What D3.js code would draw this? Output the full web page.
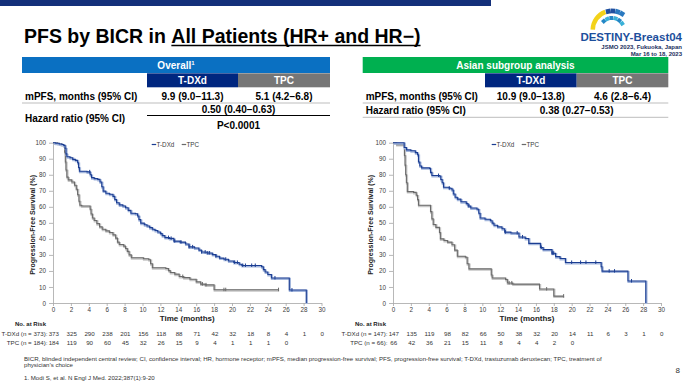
<!DOCTYPE html>
<html><head><meta charset="utf-8">
<script src="https://cdn.jsdelivr.net/npm/d3@7"></script>
<style>
body{margin:0;background:#fff}
svg{display:block;font-family:"Liberation Sans",Arial,Helvetica,sans-serif}
</style></head>
<body><svg id="c" width="693" height="390"></svg>
<script>
// ---------------- DATA ----------------
const xTickValues = [0,2,4,6,8,10,12,14,16,18,20,22,24,26,28,30];
const yTickValues = [0,10,20,30,40,50,60,70,80,90,100];
const seriesNames = ["T-DXd","TPC"];

// Overall population KM steps [month, PFS %]
const overallTDXd = [[0,100],[0.3,99.7],[0.7,99.2],[1.0,98.9],[1.2,98.3],[1.35,96.5],[1.45,93],[1.55,91.2],[1.9,90.6],[2.2,89.6],[2.5,89],[2.75,87.5],[2.85,84.5],[2.95,82.2],[3.8,81.8],[4.15,80],[4.3,78.2],[4.6,77.6],[5.0,77.1],[5.25,75.5],[5.45,72.5],[5.6,69.8],[5.9,68.5],[6.3,67.8],[6.7,66.5],[6.9,64.5],[7.1,62.5],[7.4,61.2],[7.8,60.5],[8.1,59.4],[8.4,57.8],[8.7,56],[9.2,55.7],[9.45,54.3],[9.6,52],[9.8,49.8],[10.2,48.8],[10.5,48],[10.8,47],[11.1,46],[11.4,45.2],[11.7,44.3],[12.0,43.3],[12.2,42],[12.5,40.8],[13.0,40.3],[13.5,38.6],[14.2,38],[14.8,36.8],[15.2,35],[15.8,34.3],[16.3,33],[16.6,31.8],[17.2,31.2],[17.8,30.2],[18.2,29.2],[18.6,28],[19.1,27.3],[19.6,26.2],[20.2,25.3],[20.8,24.2],[21.1,23.4],[23.3,22.6],[23.5,20.8],[23.7,19.3],[24.0,17.8],[24.4,15.6],[26.4,8.1],[28.3,0]];
const overallTPC = [[0,100],[0.5,99.5],[0.9,98.9],[1.2,98.2],[1.3,94],[1.38,88],[1.45,83],[1.55,78.5],[1.7,76.8],[2.1,75.5],[2.4,73.5],[2.6,71],[2.75,67.5],[2.9,63.5],[3.0,61],[3.2,60.5],[4.15,58.5],[4.25,55.5],[4.4,53],[4.6,51.5],[4.9,49.5],[5.2,47.5],[5.5,46],[5.9,45],[6.3,44],[6.7,42.5],[7.0,40.5],[7.2,38],[7.4,36.5],[7.9,35.5],[8.1,34],[8.3,32.2],[8.5,30],[8.75,28.2],[10.1,27.6],[10.7,27],[10.9,24.5],[11.1,22],[12.6,21.5],[12.9,20.2],[13.1,19],[13.6,18],[14.1,16.5],[14.6,15.8],[15.3,14.8],[16.0,13.2],[16.5,11.8],[17.0,11.3],[18.0,8.3],[25.2,8.3]];
const overallTDXdCensor = [4.1,12.9,13.2,13.6,14.3,15.2,15.6,16.6,17.0,17.3,17.5,18.2,19.3,20.3,20.6,21.2,21.5,22.2,22.6,24.8,26.7];
const overallTPCCensor = [14.5,16.7,17.1,19.1,19.3,25.2];

// Asian subgroup KM steps
const asianTDXd = [[0,100],[1.15,100],[1.25,97],[1.5,95.5],[2.0,95],[2.5,93.8],[2.75,92.5],[2.85,88],[3.0,85.5],[3.2,84.3],[4.1,84],[4.2,81.5],[4.35,79.5],[5.2,79.2],[5.35,77],[5.5,75],[5.65,72.2],[6.3,71.6],[6.6,70.5],[6.75,68],[6.95,66],[7.2,64.8],[7.6,63.2],[8.2,62],[8.4,60.5],[8.7,59.3],[9.4,58.5],[9.6,56],[9.75,53],[10.3,52.2],[10.9,51.3],[11.1,49.8],[11.3,48.5],[11.7,47.5],[12.2,46.3],[12.5,44.2],[13.2,43.7],[14.1,41.2],[14.8,40.2],[15.2,37.2],[16.5,34.6],[16.8,33.3],[17.8,31],[18.2,28.9],[18.7,27.8],[19.3,25.3],[23.3,22.6],[23.4,19.9],[26.3,13.7],[28.3,0]];
const asianTPC = [[0,100],[0.4,98.8],[1.28,92],[1.35,86],[1.42,80],[1.5,75],[1.6,69.5],[2.3,69],[2.6,67.2],[2.75,64.5],[2.85,61],[4.1,61],[4.2,57],[4.35,52.5],[4.5,49],[4.8,47.2],[5.2,44],[5.3,40],[5.7,39],[6.1,38],[6.6,36.3],[6.9,33],[7.2,29.2],[8.1,28.5],[8.3,24.5],[8.5,21.3],[10.8,21.3],[11.0,17.5],[11.1,15.6],[12.6,14.7],[12.8,12.5],[13.4,11.8],[16.4,8.7],[18.0,4.3],[19.1,4.3]];
const asianTDXdCensor = [5.1,6.3,8.5,12.6,13.9,14.5,16.6,17.8,17.9,18.0,20.0,21.0,21.6,22.7,24.2,24.8,26.7];
const asianTPCCensor = [13.0,13.3,17.2,19.1];

// Numbers at risk (every 2 months)
const overallRiskTDXd = [373,325,290,238,201,156,118,88,71,42,32,18,8,4,1,0];
const overallRiskTPC = [184,119,90,60,45,32,26,15,9,4,1,1,1,0];
const asianRiskTDXd = [147,135,119,98,82,66,50,38,32,20,14,11,6,3,1,0];
const asianRiskTPC = [66,42,36,21,15,11,8,4,4,2,0];

// Table contents
const overallTable = {title:"Overall", sup:"1", mpfs:["9.9 (9.0\u221211.3)","5.1 (4.2\u22126.8)"], hr:"0.50 (0.40\u22120.63)", p:"P<0.0001"};
const asianTable = {title:"Asian subgroup analysis", sup:"", mpfs:["10.9 (9.0\u221213.8)","4.6 (2.8\u22126.4)"], hr:"0.38 (0.27\u22120.53)", p:null};

// ---------------- DRAW ----------------
const svg = d3.select("#c");
const BLUE="#1b3d92", BLUE_L="#a3b6dc", GRAY="#6a6a6a", GRAY_L="#c6c6c6";

// top bar
svg.append("rect").attr("x",0).attr("y",0).attr("width",491).attr("height",6).attr("fill","#14307a");

// title
const tFont = 19.5;
const t1 = svg.append("text").attr("x",24).attr("y",43).attr("font-size",tFont).attr("font-weight","bold").attr("fill","#000").text("PFS by BICR in");
const w1 = t1.node().getComputedTextLength();
const x2 = 24 + w1 + tFont*0.278;
const t2 = svg.append("text").attr("x",x2).attr("y",43).attr("font-size",tFont).attr("font-weight","bold").attr("fill","#000").text("All Patients (HR+ and HR\u2212)");
const w2 = t2.node().getComputedTextLength();
svg.append("line").attr("x1",x2).attr("x2",x2+w2).attr("y1",45.5).attr("y2",45.5).attr("stroke","#000").attr("stroke-width",1.6);

// logo
(function(){
  const g = svg.append("g").attr("transform","translate(612,30)");
  g.append("path").attr("d", d3.arc()({innerRadius:17,outerRadius:21.5,startAngle:-1.55,endAngle:-0.35})).attr("fill","#f3d21a");
  const outer = [-0.2,0.05,0.3,0.55];
  outer.forEach((a,i)=>{
    g.append("rect").attr("x",-2.4).attr("y",-2.4).attr("width",4.8).attr("height",4.8)
     .attr("fill",i<2?"#1f4f9f":"#2a79c0")
     .attr("transform",`rotate(${a*180/Math.PI}) translate(0,-19)`);
  });
  const inner = [-0.75,-0.4,-0.05,0.3,0.65,1.0];
  inner.forEach((a,i)=>{
    g.append("rect").attr("x",-2).attr("y",-2).attr("width",4).attr("height",4)
     .attr("fill",i%2?"#39b1d8":"#2487c6")
     .attr("transform",`rotate(${a*180/Math.PI}) translate(0,-12)`);
  });
})();
svg.append("text").attr("x",682).attr("y",40.5).attr("text-anchor","end").attr("font-size",11.5).attr("font-weight","bold").attr("fill","#1d4f9c").text("DESTINY-Breast04");
svg.append("text").attr("x",682).attr("y",49.3).attr("text-anchor","end").attr("font-size",6).attr("font-weight","bold").attr("fill","#1a2f5e").text("JSMO 2023, Fukuoka, Japan");
svg.append("text").attr("x",682).attr("y",55.6).attr("text-anchor","end").attr("font-size",6).attr("font-weight","bold").attr("fill","#1a2f5e").text("Mar 16 to 18, 2023");

// tables
function drawTable(x0, xMid, xC, x1, headColor, tbl){
  const g = svg.append("g");
  g.append("rect").attr("x",x0).attr("y",57).attr("width",x1-x0).attr("height",16).attr("fill",headColor);
  const ht = g.append("text").attr("x",(x0+x1)/2).attr("y",68.5).attr("text-anchor","middle").attr("font-size",10).attr("font-weight","bold").attr("fill","#fff").text(tbl.title);
  if(tbl.sup) ht.append("tspan").attr("font-size",6).attr("dy",-3.5).text(tbl.sup);
  g.append("rect").attr("x",xMid).attr("y",73.3).attr("width",xC-xMid).attr("height",14).attr("fill","#00267f");
  g.append("rect").attr("x",xC).attr("y",73.3).attr("width",x1-xC).attr("height",14).attr("fill","#767676");
  g.append("text").attr("x",(xMid+xC)/2).attr("y",84).attr("text-anchor","middle").attr("font-size",10).attr("font-weight","bold").attr("fill","#fff").text(seriesNames[0]);
  g.append("text").attr("x",(xC+x1)/2).attr("y",84).attr("text-anchor","middle").attr("font-size",10).attr("font-weight","bold").attr("fill","#fff").text(seriesNames[1]);
  g.append("text").attr("x",x0+3).attr("y",100.3).attr("font-size",10).attr("font-weight","bold").text("mPFS, months (95% CI)");
  g.append("text").attr("x",(xMid+xC)/2).attr("y",100.3).attr("text-anchor","middle").attr("font-size",10).attr("font-weight","bold").text(tbl.mpfs[0]);
  g.append("text").attr("x",(xC+x1)/2).attr("y",100.3).attr("text-anchor","middle").attr("font-size",10).attr("font-weight","bold").text(tbl.mpfs[1]);
  g.append("line").attr("x1",x0).attr("x2",x1).attr("y1",103).attr("y2",103).attr("stroke","#bdbdbd").attr("stroke-width",1);
  if(tbl.p){
    g.append("text").attr("x",x0+3).attr("y",121.8).attr("font-size",10).attr("font-weight","bold").text("Hazard ratio (95% CI)");
    g.append("text").attr("x",(xMid+x1)/2).attr("y",113).attr("text-anchor","middle").attr("font-size",10).attr("font-weight","bold").text(tbl.hr);
    g.append("line").attr("x1",xMid).attr("x2",x1).attr("y1",115.5).attr("y2",115.5).attr("stroke","#000").attr("stroke-width",1);
    g.append("text").attr("x",(xMid+x1)/2).attr("y",129.3).attr("text-anchor","middle").attr("font-size",10).attr("font-weight","bold").text(tbl.p);
  } else {
    g.append("text").attr("x",x0+3).attr("y",113.7).attr("font-size",10).attr("font-weight","bold").text("Hazard ratio (95% CI)");
    g.append("text").attr("x",(xMid+x1)/2).attr("y",113.7).attr("text-anchor","middle").attr("font-size",10).attr("font-weight","bold").text(tbl.hr);
    g.append("line").attr("x1",x0).attr("x2",x1).attr("y1",117.3).attr("y2",117.3).attr("stroke","#bdbdbd").attr("stroke-width",1);
  }
}
drawTable(22,147,238,330,"#0a70c2",overallTable);
drawTable(362.7,485,576.7,668.3,"#00b050",asianTable);

// KM charts
function stepValue(data,t){let v=data[0][1];for(const d of data){if(d[0]<=t)v=d[1];else break;}return v;}
function drawKM(x0,x1,yAxisX,tdxd,tpc,cT,cP,riskT,riskP,nT,nP){
  const x = d3.scaleLinear().domain([0,30]).range([x0,x1]);
  const y = d3.scaleLinear().domain([0,100]).range([303,142.7]);
  const g = svg.append("g");
  const ax = g.append("g").attr("transform",`translate(0,303)`).call(d3.axisBottom(x).tickValues(xTickValues).tickSize(3).tickPadding(2).tickSizeOuter(0));
  const ay = g.append("g").attr("transform",`translate(${x0},0)`).call(d3.axisLeft(y).tickValues(yTickValues).tickSize(4).tickPadding(3).tickSizeOuter(0));
  [ax,ay].forEach(a=>{
    a.selectAll("path,line").attr("stroke","#a6a6a6").attr("stroke-width",0.8);
    a.selectAll("text").attr("font-size",6.3).attr("fill","#404040").attr("font-family","Liberation Sans, Arial, sans-serif");
  });
  const line = d3.line().x(d=>x(d[0])).y(d=>y(d[1])).curve(d3.curveStepAfter);
  [[tpc,GRAY,GRAY_L,cP],[tdxd,BLUE,BLUE_L,cT]].forEach(([data,c,cl,cens])=>{
    g.append("path").datum(data).attr("d",line).attr("fill","none").attr("stroke",cl).attr("stroke-width",2.2).attr("transform","translate(0.6,0.9)");
    g.append("path").datum(data).attr("d",line).attr("fill","none").attr("stroke",c).attr("stroke-width",1.1);
    g.selectAll(null).data(cens).join("line")
      .attr("x1",d=>x(d)).attr("x2",d=>x(d))
      .attr("y1",d=>y(stepValue(data,d))-2).attr("y2",d=>y(stepValue(data,d))+1.5)
      .attr("stroke",c).attr("stroke-width",1);
  });
  // legend
  const lx = x0 + 98.7, ly = 144.5;
  g.append("line").attr("x1",lx).attr("x2",lx+4.5).attr("y1",ly).attr("y2",ly).attr("stroke",BLUE).attr("stroke-width",1.2);
  g.append("text").attr("x",lx+4.8).attr("y",ly+2.2).attr("font-size",6.3).attr("fill","#404040").text(seriesNames[0]);
  g.append("line").attr("x1",lx+30).attr("x2",lx+34.5).attr("y1",ly).attr("y2",ly).attr("stroke",GRAY).attr("stroke-width",1.2);
  g.append("text").attr("x",lx+34.8).attr("y",ly+2.2).attr("font-size",6.3).attr("fill","#404040").text(seriesNames[1]);
  // axis titles
  g.append("text").attr("transform",`translate(${yAxisX},${y(50)+2}) rotate(-90)`).attr("text-anchor","middle").attr("font-size",7).attr("font-weight","bold").attr("fill","#222").text("Progression-Free Survival (%)");
  g.append("text").attr("x",(x0+x1)/2).attr("y",321).attr("text-anchor","middle").attr("font-size",8).attr("font-weight","bold").attr("fill","#222").text("Time (months)");
  // risk table
  g.append("text").attr("x",x0-38).attr("y",326.3).attr("font-size",6).attr("font-weight","bold").attr("fill","#222").text("No. at Risk");
  g.append("text").attr("x",x0-5.5).attr("y",336.2).attr("text-anchor","end").attr("font-size",6.2).attr("fill","#333").text(`${seriesNames[0]} (n = ${nT}):`);
  g.append("text").attr("x",x0-5.5).attr("y",344.6).attr("text-anchor","end").attr("font-size",6.2).attr("fill","#333").text(`${seriesNames[1]} (n = ${nP}):`);
  g.selectAll(null).data(riskT).join("text").attr("x",(d,i)=>x(xTickValues[i])+0.8).attr("y",336.2).attr("text-anchor","middle").attr("font-size",6.2).attr("fill","#333").text(d=>d);
  g.selectAll(null).data(riskP).join("text").attr("x",(d,i)=>x(xTickValues[i])+0.8).attr("y",344.6).attr("text-anchor","middle").attr("font-size",6.2).attr("fill","#333").text(d=>d);
}
drawKM(53,321.5,34.5,overallTDXd,overallTPC,overallTDXdCensor,overallTPCCensor,overallRiskTDXd,overallRiskTPC,373,184);
drawKM(393,661,372.5,asianTDXd,asianTPC,asianTDXdCensor,asianTPCCensor,asianRiskTDXd,asianRiskTPC,147,66);

// footnotes
const fn = svg.append("g").attr("font-size",6.1).attr("fill","#333");
fn.append("text").attr("x",24).attr("y",360.5).text("BICR, blinded independent central review; CI, confidence interval; HR, hormone receptor; mPFS, median progression-free survival; PFS, progression-free survival; T-DXd, trastuzumab deruxtecan; TPC, treatment of");
fn.append("text").attr("x",24).attr("y",367.3).text("physician\u2019s choice");
fn.append("text").attr("x",24).attr("y",379.5).text("1. Modi S, et al. N Engl J Med. 2022;387(1):9-20");
svg.append("text").attr("x",680).attr("y",373).attr("text-anchor","end").attr("font-size",8).attr("fill","#333").text("8");
</script></body></html>
